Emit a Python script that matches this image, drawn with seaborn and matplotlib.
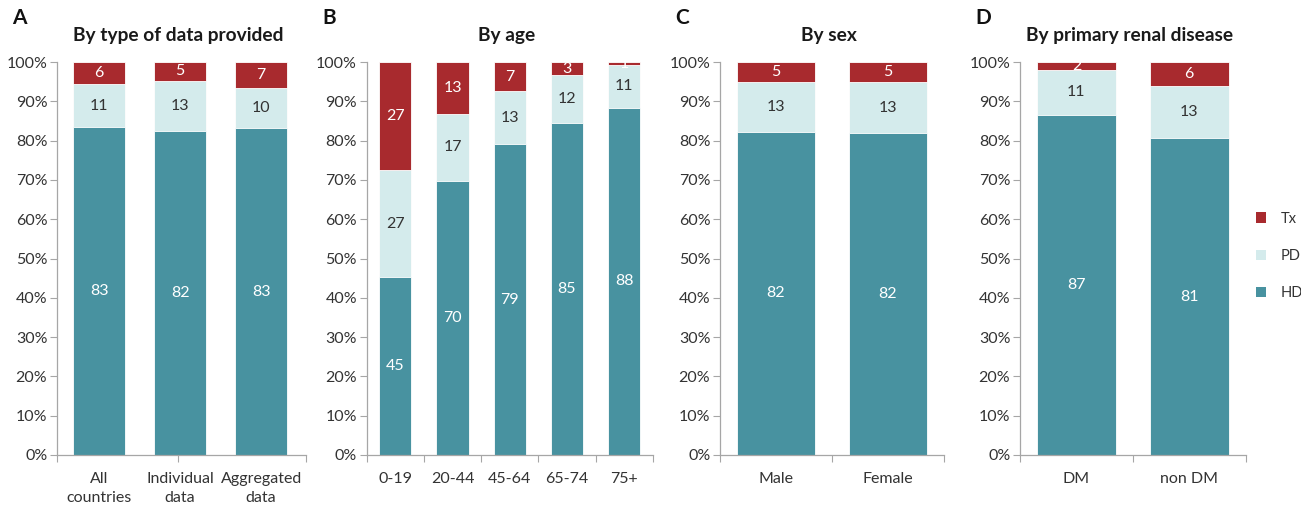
import numpy as np
import pandas as pd
import matplotlib
matplotlib.use("Agg")
import matplotlib.pyplot as plt
import seaborn as sns
from matplotlib.patches import Patch
from matplotlib.ticker import FixedLocator, PercentFormatter

# ---------------- data ----------------
cats_a = ["All\ncountries", "Individual\ndata", "Aggregated\ndata"]
hd_a = [83.4, 82.4, 83.2]
pd_a = [10.9, 12.8, 10.2]
tx_a = [5.7, 4.8, 6.6]

cats_b = ["0-19", "20-44", "45-64", "65-74", "75+"]
hd_b = [45.2, 69.7, 79.1, 84.6, 88.4]
pd_b = [27.4, 17.1, 13.4, 12.0, 10.8]
tx_b = [27.4, 13.2, 7.4, 3.4, 0.8]

cats_c = ["Male", "Female"]
hd_c = [82.3, 81.9]
pd_c = [12.6, 12.9]
tx_c = [5.1, 5.2]

cats_d = ["DM", "non DM"]
hd_d = [86.6, 80.6]
pd_d = [11.3, 13.4]
tx_d = [2.1, 6.0]

titles = ["By type of data provided", "By age", "By sex", "By primary renal disease"]
letters = ["A", "B", "C", "D"]
legend_labels = ["Tx", "PD", "HD"]

# ---------------- style ----------------
HD_C = "#4892A0"
PD_C = "#D4EBEC"
TX_C = "#A82A2E"
SPINE = "#A6A6A6"
TXT = "#333333"

sns.set_style("white")
plt.rcParams["font.family"] = ["Lato", "DejaVu Sans"]

W, H = 1301, 509
fig = plt.figure(figsize=(W / 100, H / 100), dpi=100)

def fx(px):
    return px / W

def fy(py):
    return 1 - py / H

y0, y1 = 455, 62
panels = [
    dict(cats=cats_a, hd=hd_a, pdv=pd_a, tx=tx_a, left=57, right=305.7,
         width=0.65, xlim=(-0.52, 2.55), minor=[-0.52, 0.975, 2.55], letter_x=12),
    dict(cats=cats_b, hd=hd_b, pdv=pd_b, tx=tx_b, left=366.7, right=652.7,
         width=0.56, xlim=(-0.5, 4.5), minor=list(np.arange(-0.5, 5.0, 1.0)), letter_x=322),
    dict(cats=cats_c, hd=hd_c, pdv=pd_c, tx=tx_c, left=720, right=944,
         width=0.70, xlim=(-0.5, 1.5), minor=[-0.5, 0.5, 1.5], letter_x=675),
    dict(cats=cats_d, hd=hd_d, pdv=pd_d, tx=tx_d, left=1020, right=1245.7,
         width=0.70, xlim=(-0.5, 1.5), minor=[-0.5, 0.5, 1.5], letter_x=975),
]

LBL = 11.5
for p, title, letter in zip(panels, titles, letters):
    ax = fig.add_axes([fx(p["left"]), fy(y0), fx(p["right"] - p["left"]), (y0 - y1) / H])
    df = pd.DataFrame({"cat": p["cats"], "HD": p["hd"], "PD": p["pdv"], "Tx": p["tx"]})
    df["top"] = df["HD"] + df["PD"] + df["Tx"]
    df["mid"] = df["HD"] + df["PD"]
    for col, color in [("top", TX_C), ("mid", PD_C), ("HD", HD_C)]:
        sns.barplot(data=df, x="cat", y=col, order=p["cats"], color=color,
                    saturation=1, width=p["width"], errorbar=None, ax=ax,
                    edgecolor="white", linewidth=0.6)
    # segment labels
    for i, row in df.iterrows():
        ax.text(i, row["HD"] / 2, f"{row['HD']:.0f}", ha="center", va="center",
                color="white", fontsize=LBL)
        ax.text(i, row["HD"] + row["PD"] / 2, f"{row['PD']:.0f}", ha="center",
                va="center", color=TXT, fontsize=LBL)
        ax.text(i, row["mid"] + row["Tx"] / 2, f"{row['Tx']:.0f}", ha="center",
                va="center", color="white", fontsize=LBL)

    ax.set_ylim(0, 100)
    ax.set_xlim(*p["xlim"])
    ax.set_xlabel("")
    ax.set_ylabel("")
    ax.yaxis.set_major_locator(FixedLocator(np.arange(0, 101, 10)))
    ax.yaxis.set_major_formatter(PercentFormatter(decimals=0))
    ax.xaxis.set_minor_locator(FixedLocator(p["minor"]))
    ax.tick_params(axis="x", which="major", length=0, pad=12, labelsize=11.5, labelcolor=TXT)
    ax.tick_params(axis="x", which="minor", length=5, width=0.8, color=SPINE, bottom=True)
    ax.tick_params(axis="y", which="major", length=5, width=0.8, color=SPINE, left=True,
                   pad=2, labelsize=11.5, labelcolor=TXT)
    for s in ["top", "right"]:
        ax.spines[s].set_visible(False)
    for s in ["left", "bottom"]:
        ax.spines[s].set_color(SPINE)
        ax.spines[s].set_linewidth(0.9)
    for lab in ax.get_xticklabels():
        lab.set_linespacing(1.45)

    cx = (p["left"] + p["right"]) / 2
    fig.text(fx(cx - 3), fy(35), title, ha="center", va="center", fontsize=13.8,
             fontweight="bold", color="#1a1a1a")
    fig.text(fx(p["letter_x"]), fy(18), letter, ha="left", va="center", fontsize=15,
             fontweight="bold", color="#111111")

handles = [Patch(facecolor=c, edgecolor="none") for c in [TX_C, PD_C, HD_C]]
fig.legend(handles, legend_labels, loc="center left", bbox_to_anchor=(fx(1243), fy(256)),
           frameon=False, handlelength=0.7, handleheight=0.7, labelspacing=1.6,
           handletextpad=1.0, fontsize=10.5, labelcolor=TXT)

fig.savefig("out.png", dpi=100)
